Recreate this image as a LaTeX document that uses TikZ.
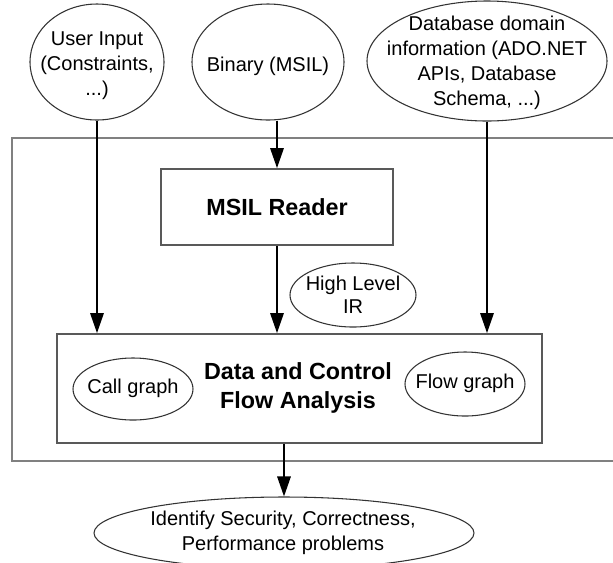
\documentclass[tikz,border=0pt]{standalone}
\usepackage{fontspec}
\setmainfont{Liberation Sans}
\usetikzlibrary{arrows.meta,shapes.geometric}
\begin{document}
\begin{tikzpicture}[x=0.75pt,y=-0.75pt,
  ell/.style={draw=black!80, line width=0.8pt, ellipse, inner sep=0pt},
  lbl/.style={align=center, font=\fontsize{15}{18.75}\selectfont, inner sep=0pt},
  bold/.style={align=center, font=\fontsize{17.5}{21.75}\selectfont\bfseries, inner sep=0pt},
  box/.style={draw=black!65, line width=1.3pt, rectangle, inner sep=0pt},
  frame/.style={draw=black!50, line width=1.6pt},
  conn/.style={draw=black, line width=1.5pt, -{Triangle[length=15pt,width=10pt]}}
]
\useasboundingbox (0,0) rectangle (613,562);
% outer frame (open on the right)
\coordinate (f1) at (613,138);
\coordinate (f2) at (12,138);
\coordinate (f3) at (12,461);
\coordinate (f4) at (613,461);
\draw[frame] (f1) -- (f2) -- (f3) -- (f4);

% top inputs
\node[ell, minimum width=100.5pt, minimum height=87pt] (ui) at (97,62) {};
\node[lbl] (uiT) at (97,66) {User Input\\(Constraints,\\...)};
\node[ell, minimum width=114pt, minimum height=87pt] (bin) at (268,62) {};
\node[lbl] (binT) at (268,66) {Binary (MSIL)};
\node[ell, minimum width=180pt, minimum height=90pt] (db) at (487,61) {};
\node[lbl] (dbT) at (487,63) {Database domain\\information (ADO.NET\\APIs, Database\\Schema, ...)};

% MSIL reader
\node[box, minimum width=174pt, minimum height=57pt] (msil) at (277,207) {};
\node[bold] (msilT) at (277,207) {MSIL Reader};

% High level IR
\node[ell, minimum width=94.5pt, minimum height=48pt] (hl) at (353,295) {};
\node[lbl, font=\fontsize{15}{17.25}\selectfont] (hlT) at (353,295) {High Level\\IR};

% Data and control flow analysis
\node[box, minimum width=363.75pt, minimum height=81.75pt] (data) at (299.5,388.5) {};
\node[bold] (dataT) at (298,388) {Data and Control\\Flow Analysis};
\node[ell, minimum width=90pt, minimum height=46.5pt] (cg) at (133,389) {};
\node[lbl] (cgT) at (133,388) {Call graph};
\node[ell, minimum width=90pt, minimum height=48pt] (fg) at (465,384) {};
\node[lbl] (fgT) at (465,383) {Flow graph};

% output
\node[ell, minimum width=285pt, minimum height=54pt] (out) at (284,533) {};
\node[lbl] (outT) at (283,533) {Identify Security, Correctness,\\Performance problems};

% connectors
\draw[conn] (ui.south) -- (ui.south |- data.north);
\draw[conn] (msil.north |- bin.south) -- (msil.north);
\draw[conn] (msil.south) -- (msil.south |- data.north);
\draw[conn] (db.south) -- (db.south |- data.north);
\draw[conn] (out.north |- data.south) -- (out.north);
\end{tikzpicture}
\end{document}
